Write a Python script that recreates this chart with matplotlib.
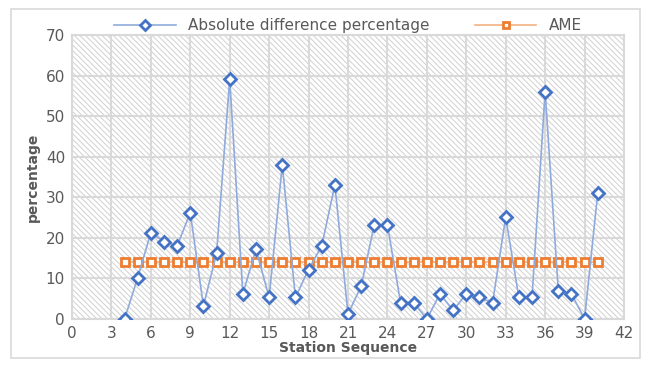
import numpy as np
import matplotlib
matplotlib.use('Agg')
import matplotlib.pyplot as plt
from matplotlib.patches import FancyBboxPatch

# station index and absolute difference (%) per station
stations = list(range(4, 41))
abs_diff = [0, 10.2, 21.3, 19.1, 18.0, 26.2, 3.2, 16.2, 59.1, 6.2,
            17.2, 5.3, 38.0, 5.3, 12.2, 18.0, 33.1, 1.2, 8.1, 23.2,
            23.2, 4.0, 4.0, 0, 6.2, 2.1, 6.2, 5.3, 4.0, 25.1,
            5.3, 5.3, 56.0, 7.0, 6.2, 0, 31.0]
ame = 14.1
ame_vals = [ame] * len(stations)

xticks = list(range(0, 43, 3))
yticks = list(range(0, 71, 10))

blue = '#4472c4'
orange = '#ed7d31'
txt = '#595959'
grid_c = '#d9d9d9'

plt.rcParams['font.family'] = ['DejaVu Sans']
plt.rcParams['hatch.linewidth'] = 0.7

fig = plt.figure(figsize=(6.48, 3.67), dpi=100)
fig.patch.set_facecolor('white')
border = FancyBboxPatch((11 / 648, 9 / 367), 629 / 648, 349 / 367,
                        boxstyle='square,pad=0', transform=fig.transFigure,
                        facecolor='none', edgecolor='#d9d9d9', lw=1.2)
fig.patches.append(border)

ax = fig.add_axes([72 / 648, 48 / 367, 552 / 648, 284 / 367])
ax.set_facecolor('white')
# diagonal hatch fill behind the plot area
ax.add_patch(plt.Rectangle((0, 0), 1, 1, transform=ax.transAxes,
                           facecolor='white', edgecolor='#d0d0d0', lw=0,
                           hatch='\\' * 6, zorder=0))

ax.plot(stations, abs_diff, color='#8faadc', lw=1.2, marker='D', ms=6,
        mfc='white', mec=blue, mew=2, zorder=4,
        label='Absolute difference percentage')
ax.plot(stations, ame_vals, color='#f4b183', lw=1.2, marker='s', ms=6,
        mfc='white', mec=orange, mew=2, zorder=3, label='AME')

ax.set_xlim(0, 42)
ax.set_ylim(0, 70)
ax.set_xticks(xticks)
ax.set_yticks(yticks)
ax.grid(True, color=grid_c, lw=1.5, zorder=1)
ax.set_axisbelow(True)
for s in ax.spines.values():
    s.set_color(grid_c)
    s.set_linewidth(1.5)
ax.tick_params(length=0, labelsize=11, colors=txt, pad=5)

ax.set_xlabel('Station Sequence', fontsize=10, fontweight='bold', color=txt,
              labelpad=0)
ax.set_ylabel('percentage', fontsize=10, fontweight='bold', color=txt,
              labelpad=4)

leg = ax.legend(loc='lower center', bbox_to_anchor=(0.5, 0.985), ncol=2,
                frameon=False, fontsize=11, handlelength=4, markerscale=0.8,
                columnspacing=3, borderaxespad=0)
for t in leg.get_texts():
    t.set_color(txt)

fig.savefig('out.png', dpi=100)
